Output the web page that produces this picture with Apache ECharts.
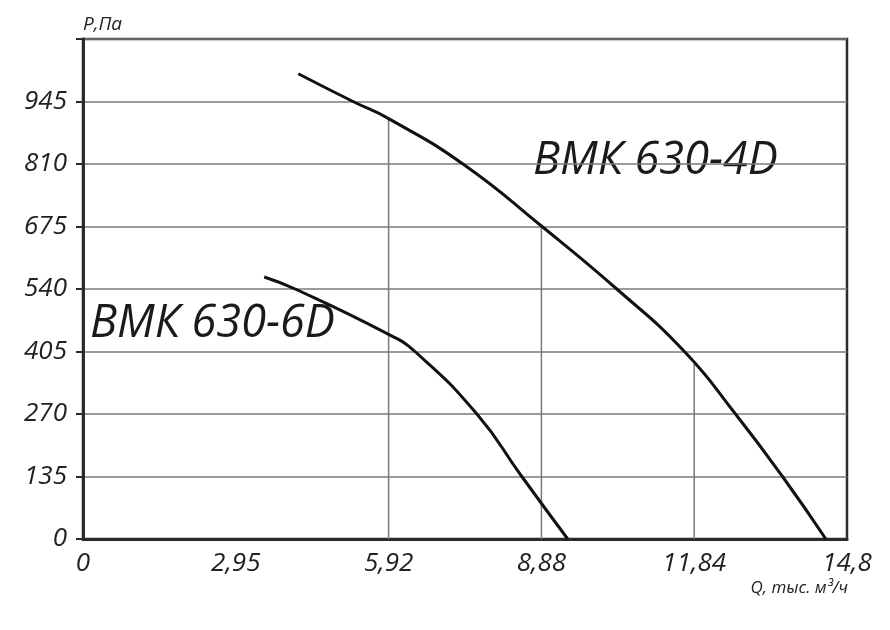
<!DOCTYPE html>
<html>
<head>
<meta charset="utf-8">
<script src="https://cdn.jsdelivr.net/npm/echarts@6/dist/echarts.min.js"></script>
<style>
html,body{margin:0;padding:0;background:#fff;}
#chart{width:890px;height:630px;}
</style>
</head>
<body>
<div id="chart"></div>
<script>
// Data
var xTickLabels = ['0', '2,95', '5,92', '8,88', '11,84', '14,8'];
var yTicks = [0, 135, 270, 405, 540, 675, 810, 945];

var q4D = [4.17, 5.23, 5.92, 7.36, 8.88, 10.34, 11.65, 12.64, 13.55, 14.39];
var p4D = [1005, 945, 908, 810, 676, 540, 405, 270, 135, 0];

var q6D = [3.51, 4.11, 5.92, 6.43, 7.63, 8.5, 9.39];
var p6D = [566, 540, 442, 405, 270, 135, 0];

var gridQ = [5.92, 8.88, 11.84];
var gridTop = [908, 676, 378];

var name4D = 'ВМК 630-4D';
var name6D = 'ВМК 630-6D';
var yAxisName = 'P,Па';
var xAxisName = 'Q, тыс. м³/ч';

function pairs(xs, ys) { return xs.map(function (x, i) { return [x, ys[i]]; }); }

var FONT = '"Open Sans", "DejaVu Sans", sans-serif';
var series = [];
gridQ.forEach(function (q, i) {
  series.push({
    type: 'line', data: [[q, 0], [q, gridTop[i]]], symbol: 'none', silent: true,
    lineStyle: { color: '#7a7a7a', width: 1.5 }, z: 1
  });
});
series.push({
  type: 'line', name: name4D, data: pairs(q4D, p4D), smooth: 0.5,
  symbol: 'none', lineStyle: { color: '#111', width: 3 }, z: 5
});
series.push({
  type: 'line', name: name6D, data: pairs(q6D, p6D), smooth: 0.5,
  symbol: 'none', lineStyle: { color: '#111', width: 3 }, z: 5
});

var chart = echarts.init(document.getElementById('chart'));
chart.setOption({
  animation: false,
  backgroundColor: '#fff',
  grid: { left: 83, right: 43, top: 39, bottom: 91, show: true, borderColor: '#2a2a2a', borderWidth: 2.5, backgroundColor: 'transparent' },
  xAxis: {
    type: 'value', min: 0, max: 14.8, interval: 2.96,
    axisLine: { show: true, lineStyle: { color: '#2a2a2a', width: 3 } },
    axisTick: { show: false },
    splitLine: { show: false },
    axisLabel: {
      margin: 12, color: '#222', fontSize: 26, fontStyle: 'italic', fontFamily: FONT,
      showMaxLabel: true, showMinLabel: true,
      formatter: function (v, idx) { return xTickLabels[idx] !== undefined ? xTickLabels[idx] : ''; }
    }
  },
  yAxis: {
    type: 'value', min: 0, max: 1080, interval: 135,
    axisLine: { show: true, lineStyle: { color: '#2a2a2a', width: 3 } },
    axisTick: { show: true, length: 7, lineStyle: { color: '#2a2a2a', width: 2 } },
    splitLine: { show: true, lineStyle: { color: '#7a7a7a', width: 1.5 } },
    axisLabel: {
      margin: 16, color: '#222', fontSize: 26, fontStyle: 'italic', fontFamily: FONT,
      formatter: function (v) { return yTicks.indexOf(v) >= 0 ? String(v) : ''; }
    }
  },
  series: series,
  graphic: [
    { type: 'text', left: 83, top: 15, style: { text: yAxisName, fontSize: 19, fontStyle: 'italic', fontFamily: FONT, fill: '#222' } },
    { type: 'text', right: 42, top: 580, style: { text: xAxisName, fontSize: 17, fontStyle: 'italic', fontFamily: FONT, fill: '#222' } },
    { type: 'text', left: 533, top: 139, style: { text: name4D, fontSize: 45, fontStyle: 'italic', fontFamily: FONT, fill: '#1a1a1a' } },
    { type: 'text', left: 90, top: 302, style: { text: name6D, fontSize: 45, fontStyle: 'italic', fontFamily: FONT, fill: '#1a1a1a' } }
  ]
});
</script>
</body>
</html>
